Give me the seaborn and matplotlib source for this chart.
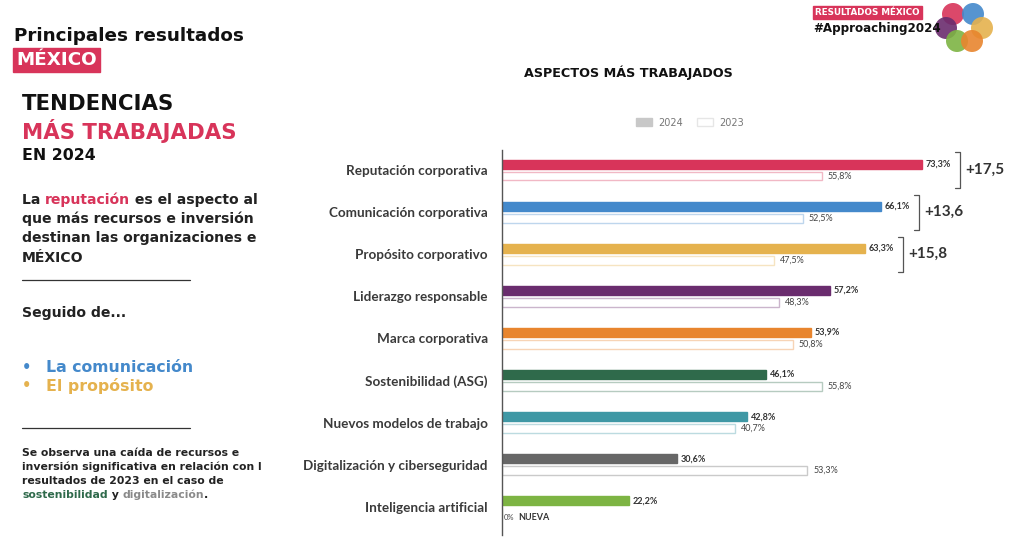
import seaborn as sns
import matplotlib.pyplot as plt
import matplotlib.colors as mcolors
from matplotlib.patches import Patch, Circle
import pandas as pd

# data
aspectos = ["Reputación corporativa", "Comunicación corporativa", "Propósito corporativo",
            "Liderazgo responsable", "Marca corporativa", "Sostenibilidad (ASG)",
            "Nuevos modelos de trabajo", "Digitalización y ciberseguridad", "Inteligencia artificial"]
valores_2024 = [73.3, 66.1, 63.3, 57.2, 53.9, 46.1, 42.8, 30.6, 22.2]
valores_2023 = [55.8, 52.5, 47.5, 48.3, 50.8, 55.8, 40.7, 53.3, 0.0]
colores = ["#d8345a", "#4489cb", "#e5b24e", "#6a2c6e", "#e8852e", "#2f6a4b",
           "#3f98a5", "#676767", "#7db443"]
diferencias = ["+17,5", "+13,6", "+15,8"]

df = pd.DataFrame({
    "aspecto": aspectos * 2,
    "año": ["2024"] * len(aspectos) + ["2023"] * len(aspectos),
    "valor": valores_2024 + valores_2023,
})

sns.set_theme(style="white")
plt.rcParams['font.family'] = ['DejaVu Sans']

fig = plt.figure(figsize=(10.24, 5.52), dpi=100)
ax = fig.add_axes([0.490, 0.031, 0.504, 0.697])

sns.barplot(data=df, y="aspecto", x="valor", hue="año", hue_order=["2024", "2023"],
            order=aspectos, orient="y", width=0.56, gap=0.25,
            palette={"2024": "#c8c8c8", "2023": "white"}, legend=False, ax=ax)

# recolour bars per category
for bar, c in zip(ax.containers[0], colores):
    bar.set_facecolor(c)
    bar.set_edgecolor(c)
for bar, c in zip(ax.containers[1], colores):
    light = [1 - 0.35 * (1 - v) for v in mcolors.to_rgb(c)]
    bar.set_facecolor("white")
    bar.set_edgecolor(light)
    bar.set_linewidth(1.0)

ax.set_xlim(0, 90)
ax.set_ylim(8.67, -0.475)
ax.set_xlabel("")
ax.set_ylabel("")
ax.set_xticks([])
for s in ["top", "right", "bottom"]:
    ax.spines[s].set_visible(False)
ax.spines["left"].set_color("#555555")
ax.spines["left"].set_linewidth(1.0)
ax.tick_params(axis="y", length=0, pad=10)
for lab in ax.get_yticklabels():
    lab.set_fontfamily("Lato")
    lab.set_fontweight("bold")
    lab.set_fontsize(9.7)
    lab.set_color("#3a3a3a")

# value labels
for bar, v in zip(ax.containers[0], valores_2024):
    yc = bar.get_y() + bar.get_height() / 2
    ax.text(v + 0.6, yc, f"{v:.1f}%".replace(".", ","), va="center", ha="left",
            fontsize=6.5, fontweight="bold", color="#333333", family="Lato")
for bar, v in zip(ax.containers[1], valores_2023):
    yc = bar.get_y() + bar.get_height() / 2
    if v == 0:
        ax.text(0.3, yc + 0.12, "0%", va="center", ha="left", fontsize=5.5,
                color="#444444", family="Lato")
        ax.text(2.9, yc + 0.12, "NUEVA", va="center", ha="left", fontsize=6.5,
                fontweight="bold", color="#333333", family="Lato")
    else:
        ax.text(v + 1.0, yc, f"{v:.1f}%".replace(".", ","), va="center", ha="left",
                fontsize=6.5, color="#444444", family="Lato")

# brackets with differences
for i, txt in enumerate(diferencias):
    xb = valores_2024[i] + 6.6
    y0, y1 = i - 0.42, i + 0.42
    ax.plot([xb - 0.8, xb, xb, xb - 0.8], [y0, y0, y1, y1], color="#555555", lw=0.9,
            clip_on=False)
    ax.text(xb + 1.0, i, txt, va="center", ha="left", fontsize=11, fontweight="bold",
            color="#333333", family="Lato")

# legend
handles = [Patch(facecolor="#c8c8c8", edgecolor="#c8c8c8", label="2024"),
           Patch(facecolor="white", edgecolor="#e6e6e6", label="2023")]
fig.legend(handles=handles, loc="center", bbox_to_anchor=(0.674, 0.778), ncol=2,
           frameon=False, fontsize=7, handlelength=1.6, handleheight=0.8,
           columnspacing=1.4, handletextpad=0.7, labelcolor="#777777")

fig.text(0.614, 0.868, "ASPECTOS MÁS TRABAJADOS", ha="center", va="center",
         fontsize=9.2, fontweight="bold", color="#111111")

# left panel
rojo = "#d8345a"
renderer = fig.canvas.get_renderer()


def multicolor(x, y, partes, **kw):
    # draw consecutive text pieces with different colours on one line
    for texto, color in partes:
        t = fig.text(x, y, texto, color=color, va="center", ha="left", **kw)
        bb = t.get_window_extent(renderer=renderer)
        x += bb.width / fig.bbox.width


fig.text(0.0137, 0.934, "Principales resultados", fontsize=13.2, fontweight="bold",
         color="#111111", va="center", ha="left")
fig.text(0.0156, 0.891, "MÉXICO", fontsize=13.2, fontweight="bold", color="white",
         va="center", ha="left",
         bbox=dict(boxstyle="square,pad=0.18", facecolor=rojo, edgecolor=rojo))

fig.text(0.0215, 0.812, "TENDENCIAS", fontsize=15.3, fontweight="bold", color="#111111",
         va="center", ha="left")
fig.text(0.0215, 0.763, "MÁS TRABAJADAS", fontsize=15.3, fontweight="bold", color=rojo,
         va="center", ha="left")
fig.text(0.0215, 0.719, "EN 2024", fontsize=11.3, fontweight="bold", color="#111111",
         va="center", ha="left")

kw = dict(fontsize=10.1, fontweight="bold")
multicolor(0.0215, 0.638, [("La ", "#222222"), ("reputación", rojo),
                           (" es el aspecto al", "#222222")], **kw)
fig.text(0.0215, 0.603, "que más recursos e inversión", color="#222222", va="center", **kw)
fig.text(0.0215, 0.568, "destinan las organizaciones e", color="#222222", va="center", **kw)
fig.text(0.0215, 0.533, "MÉXICO", color="#222222", va="center", **kw)

fig.add_artist(plt.Line2D([0.0215, 0.186], [0.492, 0.492], color="#333333", lw=0.9))
fig.text(0.0215, 0.433, "Seguido de...", color="#222222", va="center", **kw)

fig.text(0.0215, 0.335, "•", color="#4489cb", va="center", fontsize=10.5, fontweight="bold")
fig.text(0.045, 0.335, "La comunicación", color="#4489cb", va="center", fontsize=11.3,
         fontweight="bold")
fig.text(0.0215, 0.301, "•", color="#e5b24e", va="center", fontsize=10.5, fontweight="bold")
fig.text(0.045, 0.301, "El propósito", color="#e5b24e", va="center", fontsize=11.3,
         fontweight="bold")

fig.add_artist(plt.Line2D([0.0215, 0.186], [0.225, 0.225], color="#333333", lw=0.9))

kw2 = dict(fontsize=7.8, fontweight="bold")
fig.text(0.0215, 0.180, "Se observa una caída de recursos e", color="#222222", va="center", **kw2)
fig.text(0.0215, 0.154, "inversión significativa en relación con l", color="#222222",
         va="center", **kw2)
fig.text(0.0215, 0.129, "resultados de 2023 en el caso de", color="#222222", va="center", **kw2)
multicolor(0.0215, 0.103, [("sostenibilidad", "#2f6a4b"), (" y ", "#222222"),
                           ("digitalización", "#8a8a8a"), (".", "#222222")], **kw2)

# top right badge
fig.text(0.796, 0.977, "RESULTADOS MÉXICO", fontsize=6.3, fontweight="bold", color="white",
         va="center", ha="left",
         bbox=dict(boxstyle="square,pad=0.22", facecolor=rojo, edgecolor=rojo))
fig.text(0.794, 0.949, "#Approaching2024", fontsize=8.6, fontweight="bold",
         color="#111111", va="center", ha="left")

logo = [((953, 14), "#d8345a"), ((973, 14), "#4489cb"), ((946, 28), "#6a2c6e"),
        ((982, 28), "#e5b24e"), ((957, 41), "#7db443"), ((972, 41), "#e8852e")]
for (px, py), c in logo:
    fig.add_artist(Circle((px / 100, (552 - py) / 100), 0.11, transform=fig.dpi_scale_trans,
                          facecolor=c, edgecolor="none", alpha=0.9))

fig.savefig("out.png", dpi=100)
